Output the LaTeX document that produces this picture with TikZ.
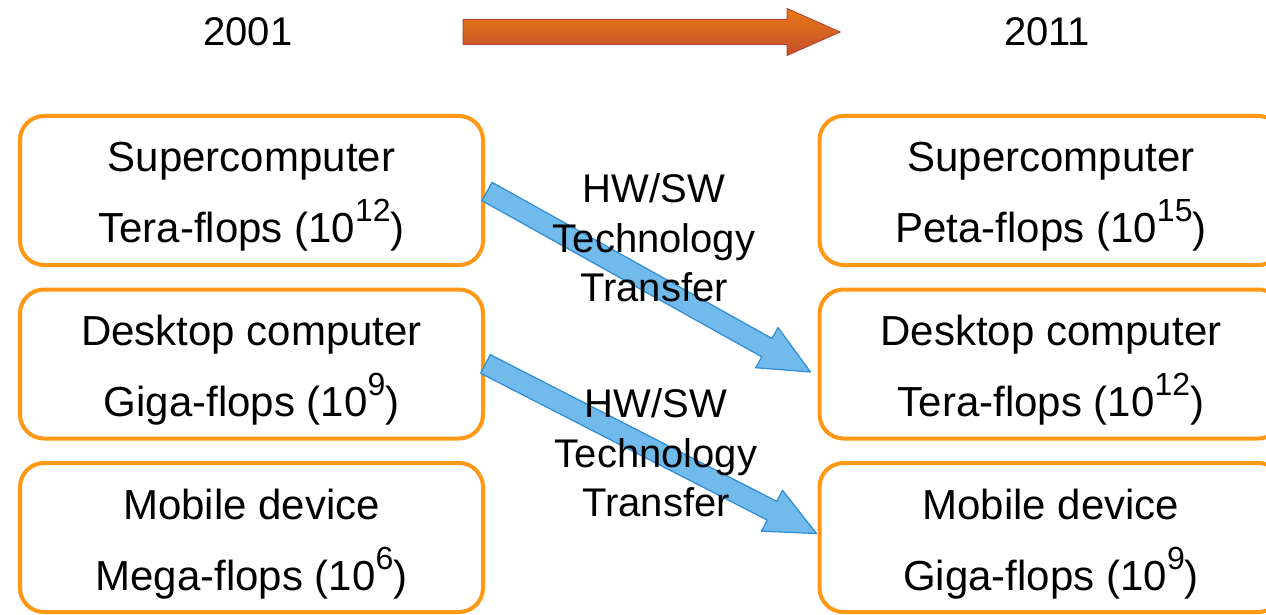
\documentclass[tikz,border=0pt]{standalone}
\usepackage{fontspec}
\setmainfont{Liberation Sans}
\usetikzlibrary{calc}

\definecolor{boxorange}{RGB}{255,152,20}
\definecolor{arrowblue}{RGB}{112,186,236}
\definecolor{arrowblueedge}{RGB}{45,140,212}
\definecolor{timetop}{RGB}{232,122,22}
\definecolor{timebottom}{RGB}{196,78,42}
\definecolor{timeedge}{RGB}{184,70,48}

% exponent set smaller and raised
\newcommand\pow[1]{\raisebox{21pt}{\fontsize{32}{32}\selectfont #1}}

% broad block arrow from one point to another
\newcommand\transferarrow[2]{%
  \path ($(#2)!50pt!(#1)$) coordinate (H);
  \filldraw[transfer]
    ($(#1)!10.5pt!90:(#2)$) -- ($(H)!10.5pt!-90:(#1)$) -- ($(H)!23pt!-90:(#1)$)
    -- (#2)
    -- ($(H)!23pt!90:(#1)$) -- ($(H)!10.5pt!90:(#1)$) -- ($(#1)!10.5pt!-90:(#2)$) -- cycle;}

\tikzset{
  panel/.style={draw=boxorange, line width=4pt, rounded corners=24pt,
    minimum width=463pt, minimum height=149pt, inner sep=0pt},
  paneltext/.style={align=center, font=\fontsize{42}{71}\selectfont, inner sep=0pt},
  yearlabel/.style={font=\fontsize{40}{48}\selectfont, anchor=base, inner sep=0pt},
  transferlabel/.style={align=center, font=\fontsize{40}{49.5}\selectfont, inner sep=0pt},
  transfer/.style={fill=arrowblue, draw=arrowblueedge, line width=1.2pt, line join=round},
  timeline/.style={top color=timetop, bottom color=timebottom, draw=timeedge, line width=1pt},
}

\begin{document}
\begin{tikzpicture}[x=1pt,y=-1pt]
\useasboundingbox (0,0) rectangle (1266,615);

% years and the time arrow between them
\node[yearlabel] (y2001) at (248,46) {2001};
\node[yearlabel] (y2011) at (1047,46) {2011};
\shade[timeline] (463,19.5) -- (787,19.5) -- (787,8.5) -- (840,32) -- (787,55.5)
  -- (787,44.5) -- (463,44.5) -- cycle;

% 2001 column
\node[panel] (l1) at (251.5,190.5) {};
\node[panel] (l2) at (251.5,364) {};
\node[panel] (l3) at (251.5,537.5) {};
% 2011 column
\node[panel] (r1) at (1051,190.5) {};
\node[panel] (r2) at (1051,364) {};
\node[panel] (r3) at (1051,537.5) {};

\node[paneltext] (l1t) at ([yshift=-6.6pt]l1.center) {Supercomputer\\Tera-flops (10\pow{12})};
\node[paneltext] (l2t) at ([yshift=-6.6pt]l2.center) {Desktop computer\\Giga-flops (10\pow{9})};
\node[paneltext] (l3t) at ([yshift=-6.6pt]l3.center) {Mobile device\\Mega-flops (10\pow{6})};
\node[paneltext] (r1t) at ([yshift=-6.6pt]r1.center) {Supercomputer\\Peta-flops (10\pow{15})};
\node[paneltext] (r2t) at ([yshift=-6.6pt]r2.center) {Desktop computer\\Tera-flops (10\pow{12})};
\node[paneltext] (r3t) at ([yshift=-6.6pt]r3.center) {Mobile device\\Giga-flops (10\pow{9})};

% technology transfer arrows
\coordinate (s1) at ([shift={(2,1)}]l1.east);
\coordinate (t1) at ([shift={(-7,8)}]r2.west);
\coordinate (s2) at ([shift={(0.5,0)}]l2.east);
\coordinate (t2) at ([shift={(-1,-4)}]r3.west);
\transferarrow{s1}{t1}
\transferarrow{s2}{t2}

\node[transferlabel] (tl1) at (654,238) {HW/SW\\Technology\\Transfer};
\node[transferlabel] (tl2) at (656,453) {HW/SW\\Technology\\Transfer};
\end{tikzpicture}
\end{document}
